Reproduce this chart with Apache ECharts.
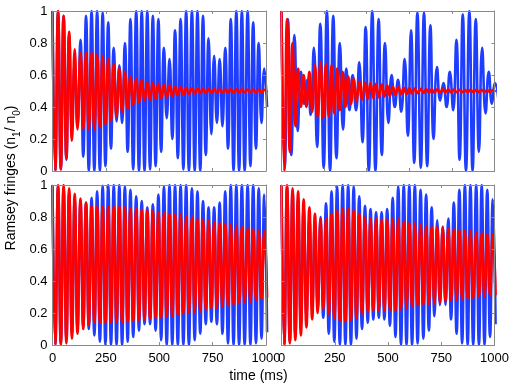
<!DOCTYPE html>
<html><head><meta charset="utf-8">
<script src="https://cdn.jsdelivr.net/npm/echarts@6/dist/echarts.min.js"></script>
<style>html,body{margin:0;padding:0;background:#fff}#c{width:517px;height:388px}</style>
</head><body><div id="c"></div>
<script>
// ---- times of maxima / minima (ms), read from the fringes ----
const peakT   = [0,26,52,78,104,131,157,183,209,235,261,287,313,339,365,392,418,444,470,496,522,548,574,600,626,653,679,705,731,757,783,809,835,861,887,914,940,966,992];
const troughT = [13,39,65,91,117,144,170,196,222,248,274,300,326,352,378,405,431,457,483,509,535,561,587,613,639,666,692,718,744,770,796,822,848,874,900,927,953,979,1005];
// top-right blue fringe has a slightly longer period
const trBluePeakT   = [0,30,61,91,122,152,182,213,243,274,304,334,365,395,426,456,486,517,547,578,608,638,669,699,730,760,790,821,851,882,912,942,973,1003];
const trBlueTroughT = [15,46,76,106,137,167,198,228,258,289,319,350,380,410,441,471,502,532,562,593,623,654,684,714,745,775,806,836,866,897,927,958,988,1018];

// ---- top-left ----
const tlBlueHi = [1.0,1.0,0.97,0.85,0.68,0.82,0.97,1.0,1.0,0.99,0.93,0.77,0.66,0.8,0.95,1.0,1.0,1.0,0.97,0.95,0.77,0.7,0.88,0.95,1.0,1.0,1.0,0.97,0.83,0.72,0.7,0.77,0.95,1.0,1.0,1.0,0.93,0.8,0.64];
const tlBlueLo = [0.0,0.01,0.07,0.26,0.28,0.09,0.0,0.0,0.0,0.03,0.14,0.31,0.3,0.12,0.01,0.0,0.0,0.01,0.03,0.12,0.33,0.2,0.08,0.01,0.0,0.0,0.0,0.1,0.23,0.3,0.28,0.14,0.0,0.0,0.0,0.03,0.14,0.3,0.4];
const tlRedHi  = [1.0,1.0,0.97,0.87,0.76,0.74,0.74,0.74,0.73,0.72,0.70,0.67,0.64,0.62,0.59,0.575,0.565,0.555,0.55,0.545,0.54,0.535,0.53,0.525,0.52,0.517,0.515,0.513,0.512,0.512,0.511,0.511,0.51,0.51,0.51,0.509,0.509,0.508,0.508];
const tlRedLo  = [0.0,0.01,0.08,0.19,0.26,0.26,0.26,0.26,0.27,0.29,0.31,0.34,0.37,0.39,0.415,0.43,0.44,0.445,0.45,0.455,0.46,0.467,0.472,0.478,0.482,0.485,0.487,0.488,0.488,0.489,0.489,0.49,0.49,0.49,0.491,0.491,0.492,0.492,0.492];

// ---- top-right ----
const trBlueHi = [1.0,0.95,0.85,0.62,0.57,0.77,0.92,1.0,0.97,0.8,0.64,0.6,0.68,0.9,1.0,0.95,0.8,0.6,0.57,0.7,0.88,0.99,0.99,0.91,0.65,0.55,0.62,0.82,0.98,1.0,0.95,0.77,0.62,0.55];
const trBlueLo = [0.02,0.1,0.25,0.42,0.35,0.15,0.02,0.0,0.08,0.26,0.38,0.38,0.18,0.0,0.0,0.1,0.3,0.4,0.37,0.22,0.05,0.02,0.03,0.2,0.44,0.4,0.38,0.07,0.0,0.0,0.12,0.36,0.42,0.45];
const trRedHi  = [1.0,0.95,0.8,0.64,0.6,0.62,0.66,0.68,0.67,0.66,0.64,0.62,0.59,0.575,0.56,0.555,0.55,0.545,0.54,0.535,0.53,0.525,0.52,0.517,0.515,0.513,0.512,0.511,0.51,0.51,0.509,0.509,0.508,0.508,0.507,0.507,0.507,0.506,0.506];
const trRedLo  = [0.0,0.12,0.28,0.4,0.4,0.37,0.34,0.33,0.34,0.36,0.38,0.4,0.42,0.435,0.445,0.45,0.455,0.46,0.465,0.47,0.475,0.48,0.483,0.485,0.487,0.488,0.489,0.49,0.49,0.491,0.491,0.492,0.492,0.493,0.493,0.493,0.494,0.494,0.494];

// ---- bottom-left ----
const blBlueHi = [1.0,0.995,0.98,0.95,0.91,0.885,0.89,0.92,0.96,0.995,1.0,1.0,1.0,0.99,0.97,0.93,0.9,0.86,0.88,0.94,0.99,1.0,1.0,1.0,1.0,0.98,0.96,0.9,0.86,0.86,0.89,0.96,1.0,1.0,1.0,1.0,1.0,0.98,0.94];
const blBlueLo = [0.0,0.01,0.035,0.07,0.105,0.115,0.1,0.06,0.02,0.0,0.0,0.0,0.0,0.02,0.05,0.09,0.13,0.13,0.09,0.03,0.0,0.0,0.0,0.0,0.0,0.03,0.07,0.13,0.145,0.13,0.07,0.01,0.0,0.0,0.0,0.0,0.01,0.04,0.08];
const blRedHi  = [1.0,1.0,1.0,0.98,0.945,0.915,0.89,0.87,0.865,0.865,0.865,0.865,0.865,0.86,0.855,0.85,0.845,0.84,0.835,0.83,0.825,0.82,0.815,0.81,0.805,0.8,0.79,0.785,0.78,0.77,0.765,0.76,0.75,0.745,0.74,0.73,0.725,0.715,0.71];
const blRedLo  = [0.0,0.0,0.01,0.04,0.07,0.1,0.125,0.14,0.14,0.14,0.14,0.14,0.14,0.145,0.15,0.155,0.16,0.165,0.17,0.17,0.175,0.18,0.19,0.195,0.2,0.205,0.21,0.22,0.225,0.23,0.24,0.245,0.25,0.26,0.265,0.27,0.28,0.285,0.295];

// ---- bottom-right ----
const brBlueHi = [1.0,0.99,0.96,0.91,0.85,0.8,0.77,0.8,0.885,0.96,0.99,1.0,1.0,0.99,0.93,0.87,0.85,0.83,0.83,0.85,0.92,0.99,1.0,1.0,1.0,0.97,0.94,0.86,0.78,0.74,0.79,0.89,0.97,1.0,1.0,1.0,1.0,0.97,0.91];
const brBlueLo = [0.0,0.02,0.06,0.12,0.18,0.22,0.22,0.17,0.07,0.02,0.0,0.0,0.0,0.04,0.1,0.14,0.16,0.17,0.16,0.12,0.05,0.0,0.0,0.0,0.01,0.04,0.09,0.18,0.25,0.25,0.16,0.07,0.01,0.0,0.0,0.0,0.0,0.05,0.13];
const brRedHi  = [1.0,1.0,0.98,0.96,0.91,0.86,0.82,0.785,0.79,0.82,0.84,0.855,0.85,0.84,0.82,0.8,0.79,0.79,0.785,0.785,0.79,0.785,0.775,0.765,0.76,0.755,0.745,0.74,0.74,0.735,0.73,0.725,0.72,0.715,0.71,0.705,0.7,0.695,0.69];
const brRedLo  = [0.0,0.01,0.03,0.06,0.11,0.16,0.2,0.22,0.195,0.17,0.15,0.145,0.155,0.17,0.195,0.205,0.21,0.215,0.215,0.215,0.21,0.22,0.23,0.24,0.245,0.25,0.255,0.26,0.265,0.27,0.275,0.28,0.285,0.29,0.29,0.3,0.305,0.31,0.31];

// ---- tick labels ----
const xTickLabels = ['0','250','500','750','1000'];
const yTickLabels = ['0','0.2','0.4','0.6','0.8','1'];
const xLabel = 'time (ms)';

function merge(pt, hi, tt, lo) {
  const out = []; let i = 0, j = 0;
  while (i < pt.length || j < tt.length) {
    if (j >= tt.length || (i < pt.length && pt[i] <= tt[j])) { out.push([pt[i], hi[i]]); i++; }
    else { out.push([tt[j], lo[j]]); j++; }
  }
  return out;
}

const panels = [
  { blue: merge(peakT, tlBlueHi, troughT, tlBlueLo), red: merge(peakT, tlRedHi, troughT, tlRedLo), xLab: false, yLab: true, xInt: 250 },
  { blue: merge(trBluePeakT, trBlueHi, trBlueTroughT, trBlueLo), red: merge(peakT, trRedHi, troughT, trRedLo), xLab: false, yLab: false, xInt: 200 },
  { blue: merge(peakT, blBlueHi, troughT, blBlueLo), red: merge(peakT, blRedHi, troughT, blRedLo), xLab: true, yLab: true, xInt: 250 },
  { blue: merge(peakT, brBlueHi, troughT, brBlueLo), red: merge(peakT, brRedHi, troughT, brRedLo), xLab: true, yLab: false, xInt: 250 }
];

const gridPos = [
  { left: 52.5, top: 11, width: 213.5, height: 160 },
  { left: 281.5, top: 11, width: 213, height: 160 },
  { left: 52.5, top: 185, width: 213.5, height: 160 },
  { left: 281.5, top: 185, width: 213, height: 160 }
];

const FONT = 'Liberation Sans, Arial, Helvetica, sans-serif';
const frame = '#8a8a8a';

const grid = [], xAxis = [], yAxis = [], series = [];
const axBase = (gi) => ({
  gridIndex: gi, type: 'value', z: 10,
  axisLine: { show: true, onZero: false, lineStyle: { color: frame, width: 1 } },
  axisTick: { show: true, inside: true, length: 3, lineStyle: { color: frame } },
  splitLine: { show: false }
});
panels.forEach((p, i) => {
  grid.push(Object.assign({ containLabel: false }, gridPos[i]));
  xAxis.push(Object.assign(axBase(i), {
    position: 'bottom', min: 0, max: 1000, interval: p.xInt,
    axisLabel: { show: p.xLab, fontSize: 13, color: '#000', fontFamily: FONT, margin: 7,
      formatter: (v) => xTickLabels[Math.round(v / 250)] }
  }));
  yAxis.push(Object.assign(axBase(i), {
    position: 'left', min: 0, max: 1, interval: 0.2,
    axisLabel: { show: p.yLab, fontSize: 13, color: '#000', fontFamily: FONT, margin: 5,
      formatter: (v) => yTickLabels[Math.round(v * 5)] }
  }));
});
panels.forEach((p, i) => {
  xAxis.push(Object.assign(axBase(i), { position: 'top', min: 0, max: 1000, interval: p.xInt, axisLabel: { show: false } }));
  yAxis.push(Object.assign(axBase(i), { position: 'right', min: 0, max: 1, interval: 0.2, axisLabel: { show: false } }));
});
panels.forEach((p, i) => {
  series.push({ type: 'line', xAxisIndex: i, yAxisIndex: i, data: p.blue, smooth: 0.5, showSymbol: false,
    lineStyle: { color: '#1f3dff', width: 2.6 }, z: 2, clip: true });
  series.push({ type: 'line', xAxisIndex: i, yAxisIndex: i, data: p.red, smooth: 0.5, showSymbol: false,
    lineStyle: { color: '#ff0000', width: 2.6 }, z: 3, clip: true });
});

const chart = echarts.init(document.getElementById('c'), null, { renderer: 'canvas' });
chart.setOption({
  animation: false,
  backgroundColor: '#fff',
  grid, xAxis, yAxis, series,
  graphic: [
    { type: 'text', left: 'center', top: 369, style: { text: xLabel, fontSize: 14, fill: '#000', fontFamily: FONT } },
    { type: 'text', x: 12, y: 178, rotation: Math.PI / 2,
      style: { text: '{a|Ramsey fringes (n}{s|1}{a|/ n}{s|0}{a|)}', align: 'center', verticalAlign: 'middle', fill: '#000', fontFamily: FONT,
        rich: { a: { fontSize: 14, lineHeight: 15, verticalAlign: 'top', fontFamily: FONT, fill: '#000' },
                s: { fontSize: 10, lineHeight: 10, padding: [8, 0, 0, 0], verticalAlign: 'top', fontFamily: FONT, fill: '#000' } } } }
  ]
});
</script></body></html>
